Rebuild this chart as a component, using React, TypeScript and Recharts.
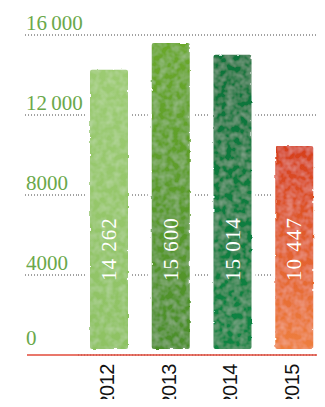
import { BarChart, Bar, XAxis, YAxis, CartesianGrid, LabelList, Cell } from "recharts";

const years = ["2012", "2013", "2014", "2015"];
const values = [14262, 15600, 15014, 10447];
const yTicks = [0, 4000, 8000, 12000, 16000];

const barColors = [
  ["#9ccb72", "#8ec263"],
  ["#6aa82a", "#4b8e2a"],
  ["#08733a", "#0a8443"],
  ["#d63f1c", "#ee7f3e"],
];

const data = years.map((year, i) => ({ year, value: values[i] }));

const PLOT_LEFT = 78;
const GREEN = "#6aa84a";
const RED = "#e24a3a";

function fmt(v: number) {
  return v >= 10000 ? String(v).replace(/(\d{3})$/, "\u2009$1") : String(v);
}

function fmtLabel(v: number) {
  return String(v).replace(/(\d{3})$/, " $1");
}

function YTick(props: any) {
  const { y, payload } = props;
  const v = payload.value as number;
  return (
    <g>
      {v === 0 ? (
        <line x1={27} x2={PLOT_LEFT} y1={y} y2={y} stroke={RED} strokeWidth={1.5} />
      ) : (
        <line x1={25} x2={PLOT_LEFT} y1={y} y2={y} stroke="#444" strokeDasharray="1 2" />
      )}
      <text
        x={26}
        y={v === 0 ? y - 10 : y - 5}
        fill={GREEN}
        fontFamily="Liberation Serif"
        fontSize={21}
        textAnchor="start"
      >
        {fmt(v)}
      </text>
    </g>
  );
}

function XTick(props: any) {
  const { x, payload } = props;
  const ty = 364;
  return (
    <text
      x={x + 5}
      y={ty}
      transform={`rotate(-90 ${x + 5} ${ty})`}
      textAnchor="end"
      fill="#111"
      fontFamily="Liberation Sans"
      fontSize={20}
      letterSpacing={-0.5}
    >
      {payload.value}
    </text>
  );
}

function BarShape(props: any) {
  const { x, y, width, height, index } = props;
  const pad = 4;
  const h = height - 6;
  return (
    <g>
      <rect x={x - pad} y={y - pad} width={width + pad * 2} height={h + pad} fill="#fff" />
      <rect
        x={x}
        y={y}
        width={width}
        height={h}
        rx={2}
        fill={`url(#bar${index})`}
        filter="url(#wash)"
      />
    </g>
  );
}

function BarLabel(props: any) {
  const { x, y, width, height, value } = props;
  const lx = x + width / 2 + 7;
  const ly = y + height - 74;
  return (
    <text
      x={lx}
      y={ly}
      transform={`rotate(-90 ${lx} ${ly})`}
      fill="#fff"
      fontFamily="Liberation Serif"
      fontSize={21}
      letterSpacing={1}
      textAnchor="start"
    >
      {fmtLabel(value)}
    </text>
  );
}

export default function App() {
  return (
    <div style={{ margin: -8, background: "#fff" }}>
      <BarChart
        width={325}
        height={407}
        data={data}
        margin={{ top: 35, right: 0, bottom: 0, left: 0 }}
        barCategoryGap={0}
      >
        <defs>
          {barColors.map((c, i) => (
            <linearGradient key={i} id={`bar${i}`} x1="0" y1="0" x2="0" y2="1">
              <stop offset="0%" stopColor={c[0]} />
              <stop offset="100%" stopColor={c[1]} />
            </linearGradient>
          ))}
          {/* soft watercolour look */}
          <filter id="wash" x="-10%" y="-5%" width="120%" height="110%">
            <feTurbulence type="fractalNoise" baseFrequency="0.15" numOctaves={2} seed={4} result="noise" />
            <feDisplacementMap in="SourceGraphic" in2="noise" scale={2.5} result="rough" />
            <feColorMatrix
              in="noise"
              type="matrix"
              values="0 0 0 0 1  0 0 0 0 1  0 0 0 0 1  0 0 0 0.35 -0.12"
              result="spots"
            />
            <feComposite in="spots" in2="rough" operator="in" result="spotsIn" />
            <feMerge>
              <feMergeNode in="rough" />
              <feMergeNode in="spotsIn" />
            </feMerge>
          </filter>
        </defs>
        <CartesianGrid vertical={false} stroke="#444" strokeDasharray="1 2" />
        <YAxis
          width={PLOT_LEFT}
          domain={[0, 16000]}
          ticks={yTicks}
          axisLine={false}
          tickLine={false}
          tick={YTick}
          interval={0}
        />
        <XAxis
          dataKey="year"
          height={52}
          axisLine={{ stroke: RED, strokeWidth: 1.5 }}
          tickLine={false}
          tick={XTick}
          interval={0}
        />
        <Bar dataKey="value" barSize={38} isAnimationActive={false} shape={BarShape}>
          {data.map((d, i) => (
            <Cell key={d.year} fill={barColors[i][1]} />
          ))}
          <LabelList dataKey="value" content={BarLabel} />
        </Bar>
      </BarChart>
    </div>
  );
}
